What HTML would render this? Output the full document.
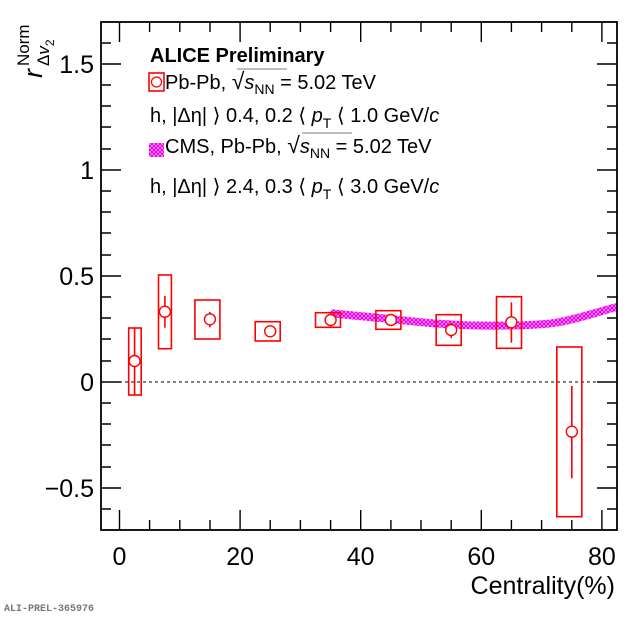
<!DOCTYPE html>
<html><head><meta charset="utf-8"><style>body{margin:0;background:#fff}svg{display:block}</style></head><body>
<svg width="640" height="617" xmlns="http://www.w3.org/2000/svg" font-family="Liberation Sans, Arial, sans-serif">
<defs>
<pattern id="hx" width="4" height="4" patternUnits="userSpaceOnUse">
<rect width="4" height="4" fill="#f8c8f8"/>
<path d="M0,0L4,4M4,0L0,4" stroke="#ee00ee" stroke-width="1.3"/>
</pattern>
</defs>
<rect width="640" height="617" fill="#fff"/>
<path d="M330.6,313 C345,315 360,316 380,318 C410,321 440,325 480,325.5 C520,326 545,325 560,322 C585,317 600,311 617,307" fill="none" stroke="url(#hx)" stroke-width="8"/>
<line x1="101" y1="382" x2="617" y2="382" stroke="#000" stroke-width="1" stroke-dasharray="3,3"/>
<rect x="101" y="22" width="516" height="508" fill="none" stroke="#000" stroke-width="1.8"/>
<g stroke="#000" stroke-width="1.4">
<path d="M119.5,530v-20M240.1,530v-20M360.7,530v-20M481.3,530v-20M601.9,530v-20
M119.5,22v20M240.1,22v20M360.7,22v20M481.3,22v20M601.9,22v20
M149.6,530v-10M179.8,530v-10M210,530v-10M270.2,530v-10M300.4,530v-10M330.6,530v-10M390.9,530v-10M421,530v-10M451.2,530v-10M511.4,530v-10M541.6,530v-10M571.8,530v-10
M149.6,22v10M179.8,22v10M210,22v10M270.2,22v10M300.4,22v10M330.6,22v10M390.9,22v10M421,22v10M451.2,22v10M511.4,22v10M541.6,22v10M571.8,22v10"/>
<path d="M101,64h20M101,170h20M101,276h20M101,382h20M101,488h20
M617,64h-20M617,170h-20M617,276h-20M617,382h-20M617,488h-20
M101,43h10M101,85h10M101,106h10M101,127h10M101,149h10M101,191h10M101,212h10M101,233h10M101,255h10M101,297h10M101,318h10M101,339h10M101,361h10M101,403h10M101,424h10M101,445h10M101,467h10M101,509h10
M617,43h-10M617,85h-10M617,106h-10M617,127h-10M617,149h-10M617,191h-10M617,212h-10M617,233h-10M617,255h-10M617,297h-10M617,318h-10M617,339h-10M617,361h-10M617,403h-10M617,424h-10M617,445h-10M617,467h-10M617,509h-10"/>
</g>
<g stroke="red" stroke-width="1.6" fill="none">
<rect x="128.7" y="328" width="12.5" height="67"/>
<line x1="134.6" y1="328" x2="134.6" y2="395"/>
<rect x="158.5" y="275" width="12.9" height="73.7"/>
<line x1="164.9" y1="296" x2="164.9" y2="327.7"/>
<rect x="194.9" y="300" width="25" height="39"/>
<line x1="209.9" y1="312" x2="209.9" y2="327.3"/>
<rect x="255.2" y="321.7" width="25" height="19.3"/>
<rect x="315.5" y="312.7" width="25" height="14.6"/>
<line x1="330.6" y1="314" x2="330.6" y2="326"/>
<rect x="375.9" y="310.7" width="25" height="18.6"/>
<rect x="436.2" y="314.7" width="25" height="30.6"/>
<line x1="451.2" y1="322.7" x2="451.2" y2="338"/>
<rect x="496.5" y="296.7" width="25" height="51.6"/>
<line x1="511.4" y1="302.3" x2="511.4" y2="342.7"/>
<rect x="556.8" y="347" width="25" height="169.7"/>
<line x1="571.8" y1="386" x2="571.8" y2="478.3"/>
</g>
<g stroke="red" stroke-width="1.4" fill="#fff">
<circle cx="134.6" cy="361" r="5.5"/>
<circle cx="164.9" cy="311.7" r="5.5"/>
<circle cx="209.9" cy="319.3" r="5.5"/>
<circle cx="270.2" cy="331.3" r="5.5"/>
<circle cx="330.6" cy="320" r="5.5"/>
<circle cx="390.9" cy="320" r="5.5"/>
<circle cx="451.2" cy="330" r="5.5"/>
<circle cx="511.4" cy="322.3" r="5.5"/>
<circle cx="571.8" cy="431.7" r="5.5"/>
</g>
<g font-size="25" text-anchor="end" fill="#000">
<text x="94" y="73">1.5</text>
<text x="94" y="179">1</text>
<text x="94" y="285">0.5</text>
<text x="94" y="391">0</text>
<text x="94" y="497">−0.5</text>
</g>
<g font-size="25" text-anchor="middle" fill="#000">
<text x="119.5" y="565">0</text>
<text x="240.1" y="565">20</text>
<text x="360.7" y="565">40</text>
<text x="481.3" y="565">60</text>
<text x="601.9" y="565">80</text>
</g>
<text x="615" y="594" font-size="25" text-anchor="end">Centrality(%)</text>
<g transform="translate(42,78) rotate(-90)">
<text x="0" y="0" font-size="27" font-style="italic">r</text>
<text x="12" y="-13" font-size="17">Norm</text>
<text x="12" y="7" font-size="17">Δ<tspan font-style="italic">v</tspan><tspan font-size="12" dy="5">2</tspan></text>
</g>
<text x="150" y="62" font-size="20" font-weight="bold">ALICE Preliminary</text>
<rect x="149" y="73" width="15" height="18" fill="none" stroke="red" stroke-width="1.6"/>
<circle cx="156.5" cy="82" r="5" fill="#fff" stroke="red" stroke-width="1.2"/>
<text x="165" y="89" font-size="20">Pb-Pb, <tspan font-size="23">√</tspan><tspan font-style="italic">s</tspan><tspan font-size="14" dy="5">NN</tspan><tspan dy="-5"> = 5.02 TeV</tspan></text>
<line x1="237" y1="69" x2="287" y2="69" stroke="#555" stroke-width="0.8"/>
<text x="150" y="122" font-size="20">h, |Δη| ⟩ 0.4, 0.2 ⟨ <tspan font-style="italic">p</tspan><tspan font-size="14" dy="6">T</tspan><tspan dy="-6"> ⟨ 1.0 GeV/</tspan><tspan font-style="italic">c</tspan></text>
<rect x="149" y="143" width="15" height="14" fill="url(#hx)"/>
<text x="165" y="153" font-size="20">CMS, Pb-Pb, <tspan font-size="23">√</tspan><tspan font-style="italic">s</tspan><tspan font-size="14" dy="5">NN</tspan><tspan dy="-5"> = 5.02 TeV</tspan></text>
<line x1="302" y1="133" x2="352" y2="133" stroke="#555" stroke-width="0.8"/>
<text x="150" y="193" font-size="20">h, |Δη| ⟩ 2.4, 0.3 ⟨ <tspan font-style="italic">p</tspan><tspan font-size="14" dy="6">T</tspan><tspan dy="-6"> ⟨ 3.0 GeV/</tspan><tspan font-style="italic">c</tspan></text>
<text x="4" y="611" font-size="10" font-family="Liberation Mono, monospace" fill="#777" font-weight="bold">ALI-PREL-365976</text>
</svg>
</body></html>
